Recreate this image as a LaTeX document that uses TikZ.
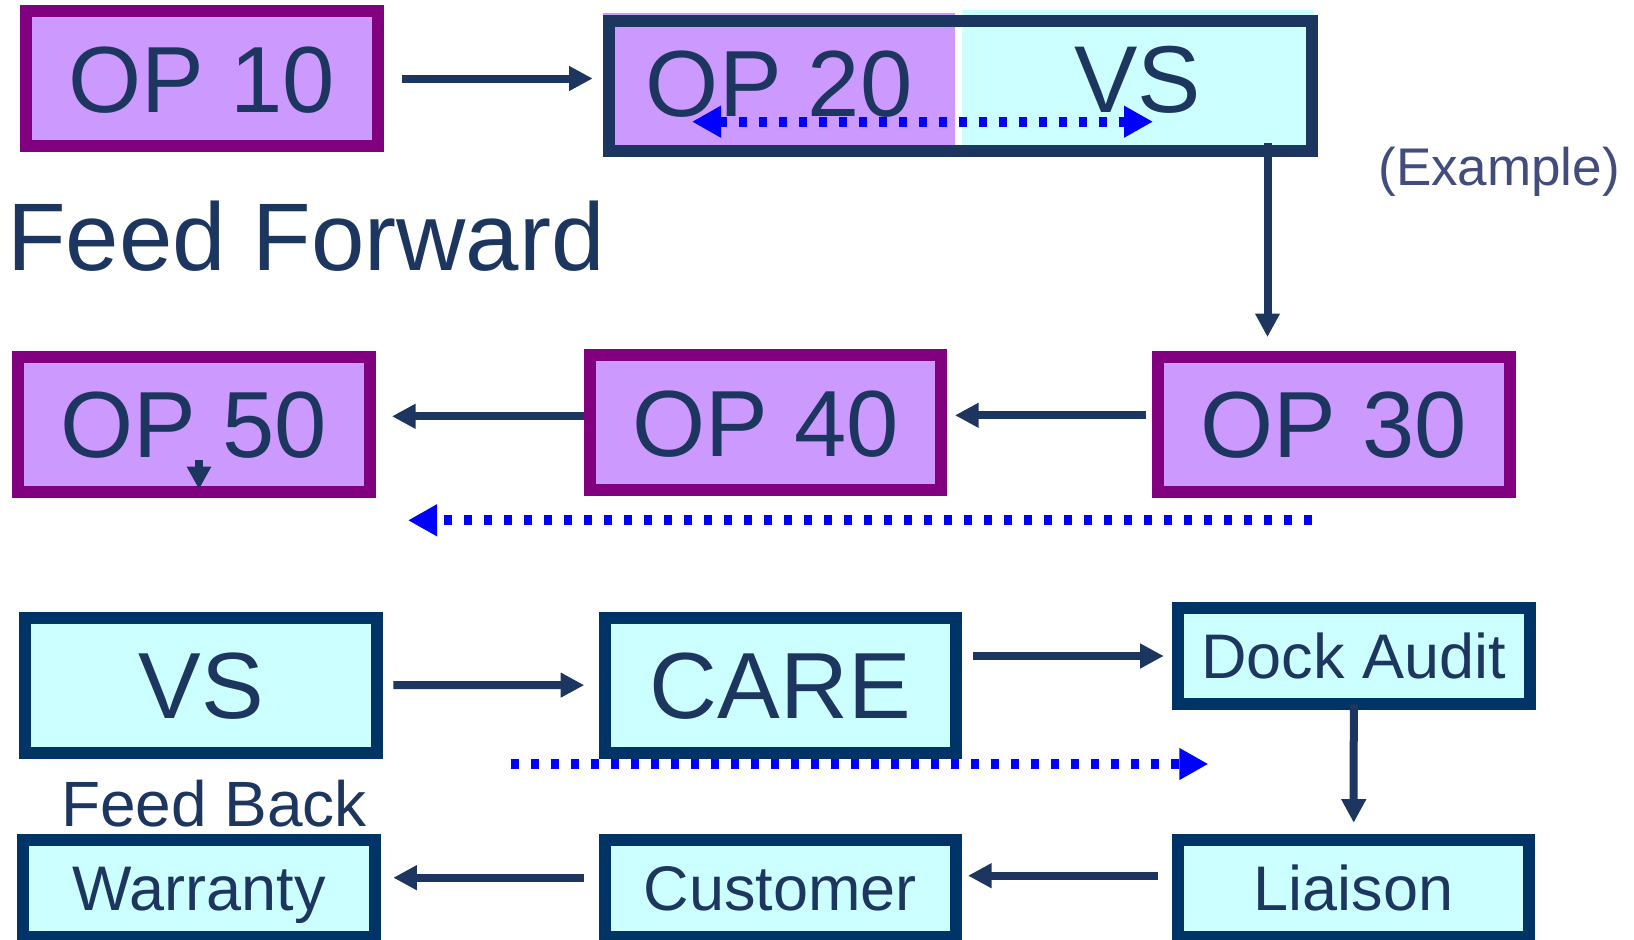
\documentclass[tikz,border=0pt]{standalone}
\usepackage{fontspec}
\setmainfont{Liberation Sans}
\usetikzlibrary{arrows.meta}
\definecolor{opfill}{HTML}{CC99FF}
\definecolor{opline}{HTML}{800080}
\definecolor{vsfill}{HTML}{CCFFFF}
\definecolor{vsline}{HTML}{003366}
\definecolor{ink}{HTML}{1D365F}
\definecolor{note}{HTML}{434D7D}
\definecolor{flow}{HTML}{0000FF}

\begin{document}
\begin{tikzpicture}[x=1pt,y=-1pt,
  every node/.style={inner sep=0pt, outer sep=0pt, text=ink},
  bigtext/.style={font=\fontsize{94}{94}\selectfont, text height=67.3pt, text depth=0pt},
  smalltext/.style={font=\fontsize{63}{63}\selectfont, text height=45.1pt, text depth=0pt},
  opbox/.style={draw=opline, fill=opfill, line width=12pt, minimum width=351.5pt, minimum height=135pt, bigtext},
  vsbox/.style={draw=vsline, fill=vsfill, line width=12pt, minimum width=351.5pt, minimum height=135pt, bigtext},
  smallbox/.style={draw=vsline, fill=vsfill, line width=12pt, minimum width=351.5pt, minimum height=96.5pt, smalltext},
  link/.style={draw=ink, line width=8pt, -{Triangle[length=23.5pt,width=23.5pt]}},
  flowline/.style={draw=flow, line width=10pt, dash pattern=on 8pt off 12pt, -{Triangle[length=29pt,width=30pt]}},
]
\useasboundingbox (0,0) rectangle (1634,940);
\clip (0,0) rectangle (1634,940);

% ---------- feed forward ----------
\node[opbox] (op10) at (201.9,78.5) {OP 10};

% combined station: OP 20 with VS
\node[fill=opfill, minimum width=351.7pt, minimum height=139.2pt, bigtext] (op20) at (779.15,82.9) {OP 20};
\node[fill=vsfill, minimum width=352pt, minimum height=136pt,
      font=\fontsize{95}{95}\selectfont, text height=68pt, text depth=0pt] (vstop) at (1137.7,78) {VS};
\node[draw=ink, line width=11.7pt, minimum width=702.7pt, minimum height=130pt] (frame) at (960.5,85.85) {};

\node[opbox] (op50) at (193.75,424.2) {OP 50};
\node[opbox] (op40) at (765.45,422.5) {OP 40};
\node[opbox] (op30) at (1334,424.2) {OP 30};

\node[anchor=base west, font=\fontsize{96}{96}\selectfont] (fftitle) at (7,270) {Feed Forward};
\node[anchor=base west, font=\fontsize{53}{53}\selectfont, text=note] (example) at (1378.4,185) {(Example)};

\coordinate (vsdrop) at (1267.5,143);
\coordinate (mk) at (199,460);

\draw[link, shorten <=24.8pt, shorten >=16.5pt] (op10.east) -- (op10.east -| frame.west);
\draw[link, shorten >=19.7pt] (vsdrop) -- (vsdrop |- op30.north);
\draw[link, shorten <=12.3pt, shorten >=13.8pt] ([yshift=8.9pt]op30.west) -- ([yshift=8.9pt]op30.west -| op40.east);
\draw[link, shorten <=6pt, shorten >=22.5pt] ([yshift=6.2pt]op40.west) -- ([yshift=6.2pt]op40.west -| op50.east);
\draw[link, -{Triangle[length=22.7pt,width=23pt]}, shorten >=2.4pt] (mk) -- (mk |- op50.south);

\coordinate (swapl) at (692,121.7);
\coordinate (swapr) at (1153,121.7);
\draw[flowline, {Triangle[length=29pt,width=30pt]}-{Triangle[length=29pt,width=30pt]}] (swapl) -- (swapr);

\coordinate (ffs) at (1312,520.3);
\coordinate (ffe) at (408,520.3);
\draw[flowline] (ffs) -- (ffe);

% ---------- feed back ----------
\node[vsbox] (vs) at (201.1,685) {VS};
\node[vsbox] (care) at (780.25,685.15) {CARE};
\node[smallbox] (dock) at (1353.75,656) {Dock Audit};
\node[smallbox] (warranty) at (199,888.35) {Warranty};
\node[smallbox] (customer) at (780.25,888.35) {Customer};
\node[smallbox] (liaison) at (1353.7,888.35) {Liaison};

\node[anchor=base west, font=\fontsize{64}{64}\selectfont] (fbtitle) at (61,826.7) {Feed Back};

\draw[link, shorten <=16.45pt, shorten >=20.3pt] (vs.east) -- (care.west);
\draw[link, shorten <=17pt, shorten >=14.3pt] (care.east |- dock.west) -- (dock.west);
\draw[link, shorten >=17.4pt] (dock.south) -- (liaison.north);
\draw[link, shorten <=19.65pt, shorten >=12pt] ([yshift=12.65pt]liaison.west) -- ([yshift=12.65pt]customer.east);
\draw[link, shorten <=20.5pt, shorten >=18.55pt] ([yshift=10.65pt]customer.west) -- ([yshift=10.65pt]warranty.east);

\coordinate (fbs) at (511,764);
\coordinate (fbe) at (1208.3,764);
\draw[flowline] (fbs) -- (fbe);
\end{tikzpicture}
\end{document}
